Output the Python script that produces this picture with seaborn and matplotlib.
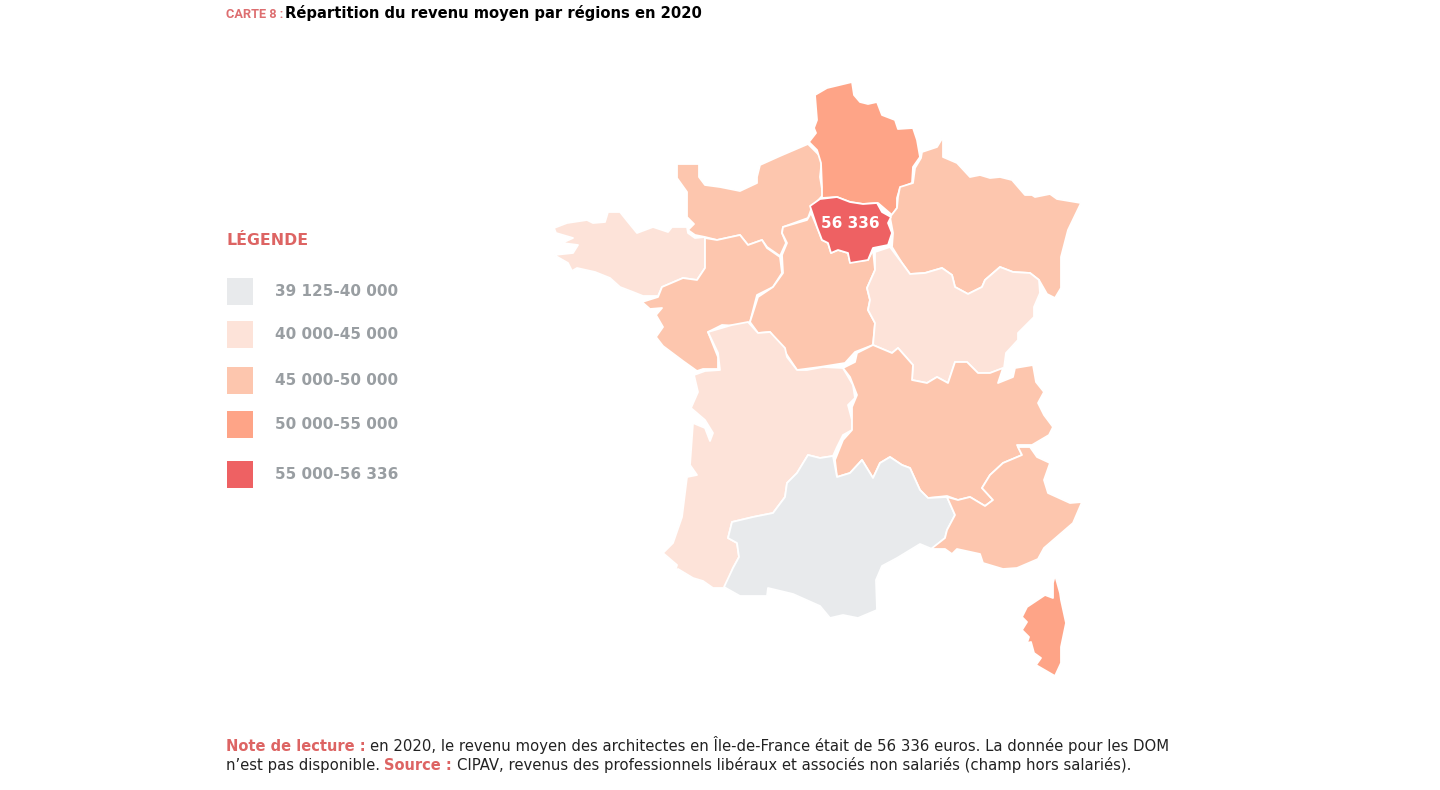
import matplotlib
matplotlib.use("Agg")
import matplotlib.pyplot as plt
import pandas as pd
import seaborn as sns

# --- contours des regions (pixels de la carte d'origine) ---
hauts_de_france = [(852,82),(854,95),(860,102),(868,104),(877,102),(882,115),(895,120),(898,129),(913,128),(917,140),(920,157),(913,167),(912,183),(900,188),(897,198),(897,208),(892,215),(878,203),(863,204),(850,202),(837,197),(822,198),(822,187),(821,163),(817,150),(809,142),(816,133),(814,128),(817,120),(815,95),(827,88)]
ile_de_france = [(810,206),(820,199),(837,197),(850,202),(863,204),(877,203),(882,212),(891,217),(888,223),(892,233),(888,245),(873,248),(868,260),(850,263),(848,253),(838,250),(831,253),(828,243),(822,240),(817,227)]
grand_est = [(922,152),(937,147),(943,137),(943,157),(957,163),(970,177),(980,175),(990,178),(1000,177),(1012,180),(1025,195),(1032,195),(1035,197),(1050,194),(1057,199),(1081,203),(1068,230),(1061,257),(1061,288),(1055,298),(1047,294),(1039,280),(1030,273),(1013,272),(1000,267),(985,280),(982,287),(968,294),(955,287),(952,275),(942,268),(925,273),(910,274),(902,263),(892,247),(893,233),(890,217),(897,208),(898,197),(900,187),(913,183),(915,168),(921,158)]
bourgogne_fc = [(875,252),(890,247),(902,263),(910,274),(925,273),(942,268),(952,275),(955,287),(968,294),(982,287),(985,280),(1000,267),(1013,272),(1030,273),(1039,280),(1040,293),(1034,307),(1034,317),(1018,333),(1018,340),(1006,353),(1004,368),(990,373),(978,373),(967,362),(955,362),(948,383),(937,377),(927,383),(912,380),(913,365),(898,348),(892,353),(873,345),(875,323),(868,310),(870,300),(867,288),(875,270)]
centre = [(811,213),(807,220),(783,227),(782,233),(787,243),(782,255),(783,273),(773,287),(758,297),(750,322),(758,333),(770,332),(785,352),(797,370),(820,367),(845,363),(855,352),(873,345),(875,323),(868,310),(870,300),(867,288),(875,270),(873,250),(868,260),(850,262),(848,253),(838,250),(831,253),(828,243),(822,240),(817,227)]
normandie = [(677,164),(699,164),(699,177),(705,185),(720,187),(740,191),(757,183),(757,177),(760,165),(780,156),(808,144),(822,158),(820,177),(823,195),(812,207),(808,218),(783,227),(782,233),(786,243),(780,256),(767,247),(762,240),(748,245),(740,235),(717,240),(705,237),(695,235),(688,230),(694,224),(687,217),(687,192),(677,178)]
bretagne = [(554,228),(567,223),(587,220),(593,223),(605,222),(608,212),(620,212),(628,222),(637,233),(653,227),(668,232),(672,227),(687,227),(688,233),(695,238),(705,237),(705,268),(697,280),(683,278),(662,287),(658,296),(643,296),(633,292),(620,287),(610,278),(595,272),(577,268),(572,271),(568,263),(554,255),(573,253),(578,245),(562,243),(573,238),(556,233)]
pays_de_la_loire = [(642,302),(658,297),(662,287),(683,278),(697,280),(705,268),(705,238),(717,240),(740,235),(748,245),(762,240),(767,248),(780,257),(782,273),(773,287),(757,295),(750,322),(740,326),(722,325),(708,332),(718,357),(718,369),(703,369),(697,371),(683,361),(663,346),(656,337),(663,327),(656,315),(662,308),(650,309)]
nouvelle_aquitaine = [(708,332),(732,325),(748,322),(758,333),(770,332),(785,348),(787,357),(797,370),(807,370),(823,367),(843,368),(853,385),(855,398),(848,405),(852,420),(852,430),(843,435),(837,447),(833,456),(820,458),(808,455),(797,473),(787,483),(785,497),(773,513),(753,517),(732,522),(728,538),(737,543),(739,557),(733,568),(725,588),(713,588),(703,581),(693,578),(678,569),(675,572),(677,565),(663,553),(673,543),(682,517),(687,477),(697,475),(690,465),(693,423),(705,428),(710,441),(713,433),(705,420),(691,408),(698,392),(694,375),(705,371),(720,370),(718,353)]
occitanie = [(728,538),(732,522),(753,517),(773,513),(785,497),(787,483),(797,473),(808,455),(820,458),(833,456),(837,477),(850,473),(862,460),(873,478),(880,463),(890,457),(902,465),(910,468),(920,490),(928,498),(947,497),(955,515),(947,530),(945,538),(932,549),(920,544),(897,558),(882,566),(876,580),(877,610),(858,618),(843,615),(830,618),(820,606),(793,594),(768,588),(767,596),(740,596),(724,587),(733,568),(739,557),(737,543)]
auvergne_ra = [(843,368),(855,362),(857,353),(873,345),(892,353),(898,348),(913,365),(912,380),(927,383),(937,377),(948,383),(955,362),(967,362),(978,373),(990,373),(1003,368),(998,383),(1013,377),(1015,368),(1033,365),(1036,382),(1044,392),(1038,403),(1044,415),(1053,427),(1049,435),(1032,445),(1017,445),(1022,455),(1003,463),(990,475),(982,488),(993,500),(985,506),(970,497),(958,500),(947,496),(928,498),(920,490),(910,468),(902,465),(890,457),(880,463),(873,478),(862,460),(850,473),(837,477),(835,460),(843,440),(852,430),(852,407),(857,395),(850,377)]
paca = [(947,497),(958,500),(970,497),(985,506),(993,500),(982,488),(990,475),(1003,463),(1022,455),(1018,447),(1030,447),(1037,457),(1050,463),(1044,480),(1048,493),(1070,503),(1082,502),(1073,523),(1044,548),(1038,559),(1017,568),(1003,569),(983,563),(980,554),(957,549),(952,554),(945,549),(931,549),(945,538),(947,530),(955,515)]
corse = [(1055,575),(1060,593),(1061,600),(1066,623),(1061,647),(1061,663),(1055,676),(1036,665),(1041,658),(1034,653),(1031,642),(1027,643),(1029,637),(1022,630),(1027,622),(1022,617),(1027,607),(1045,595),(1053,598),(1053,583)]

# --- classes de revenu ---
classes = ["39 125-40 000", "40 000-45 000", "45 000-50 000", "50 000-55 000", "55 000-56 336"]
couleurs = ["#E8EAEC", "#FDE3D9", "#FDC6AE", "#FEA487", "#EE6163"]
regions = [
    (bretagne, 1), (normandie, 2), (hauts_de_france, 3), (grand_est, 2), (pays_de_la_loire, 2),
    (centre, 2), (bourgogne_fc, 1), (nouvelle_aquitaine, 1), (auvergne_ra, 2), (occitanie, 0),
    (paca, 2), (corse, 3), (ile_de_france, 4),
]
legende_y = [291.5, 334.5, 380.5, 424.5, 474.5]

sns.set_theme(style="white")
plt.rcParams['font.family'] = ['DejaVu Sans']
palette = sns.color_palette(couleurs)

fig = plt.figure(figsize=(14.4, 7.9), dpi=100)
ax = fig.add_axes([0, 0, 1, 1])

# --- carte ---
for contour, c in regions:
    xs = [p[0] for p in contour]
    ys = [p[1] for p in contour]
    ax.fill(xs, ys, facecolor=palette[c], edgecolor="white", linewidth=1.3, joinstyle="round")

ax.text(850, 223.5, "56 336", color="white", fontsize=11, fontweight="bold", ha="center", va="center")

# --- legende ---
df_leg = pd.DataFrame({"x": [240]*5, "y": legende_y, "classe": classes})
sns.scatterplot(data=df_leg, x="x", y="y", hue="classe", palette=couleurs, marker="s", s=375,
                linewidth=0, legend=False, ax=ax)
for y, lab in zip(legende_y, classes):
    ax.text(275, y, lab, color="#999EA2", fontsize=11, fontweight="bold", va="center")
ax.text(226, 245, "LÉGENDE", color="#DD6463", fontsize=11.3, fontweight="bold", va="baseline")

# --- titre et note ---
ax.text(226, 18, "CARTE 8 :", color="#DD6E70", fontsize=9.2, fontweight="bold", va="baseline", family="Roboto")
ax.text(285, 18, "Répartition du revenu moyen par régions en 2020", color="black", fontsize=10.6,
        fontweight="bold", va="baseline")

ax.text(226, 751, "Note de lecture :", color="#DD6463", fontsize=10.5, fontweight="bold", va="baseline")
ax.text(370, 751, "en 2020, le revenu moyen des architectes en Île-de-France était de 56 336 euros. La donnée pour les DOM",
        color="#222222", fontsize=10.72, va="baseline")
ax.text(226, 770, "n’est pas disponible.", color="#222222", fontsize=10.72, va="baseline")
ax.text(384, 770, "Source :", color="#DD6463", fontsize=10.5, fontweight="bold", va="baseline")
ax.text(457, 770, "CIPAV, revenus des professionnels libéraux et associés non salariés (champ hors salariés).",
        color="#222222", fontsize=10.72, va="baseline")

ax.set_xlim(0, 1440)
ax.set_ylim(790, 0)
ax.axis("off")

fig.savefig("out.png", dpi=100)
